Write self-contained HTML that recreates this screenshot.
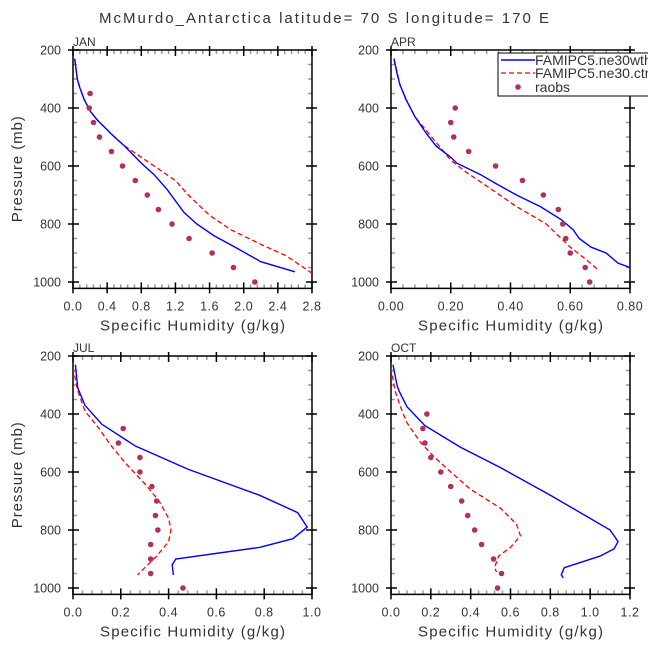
<!DOCTYPE html>
<html><head><meta charset="utf-8"><style>
html,body{margin:0;padding:0;background:#fff;}
svg{display:block;font-family:"Liberation Sans",sans-serif;}
</style></head><body>
<svg id="c" width="648" height="649" viewBox="0 0 648 649">
<text x="324" y="23" text-anchor="middle" font-size="15" fill="#333" textLength="450">McMurdo_Antarctica  latitude= 70 S longitude= 170 E</text>
</svg>
<script>
const NS="http://www.w3.org/2000/svg";
const svg=document.getElementById('c');
// JAN
const janBlueQ=[0.02,0.05,0.08,0.13,0.2,0.28,0.45,0.6,0.8,0.95,1.1,1.3,1.45,1.65,1.9,2.2,2.6];
const janBlueP=[230,300,330,370,410,440,490,530,590,630,680,760,800,840,880,930,965];
const janRedQ=[0.02,0.05,0.08,0.13,0.2,0.28,0.45,0.6,0.8,1.0,1.2,1.35,1.6,1.85,2.2,2.5,2.8];
const janRedP=[230,300,330,370,410,440,490,530,570,610,650,700,770,820,870,910,970];
const janObsQ=[0.2,0.19,0.24,0.31,0.45,0.58,0.73,0.87,1.0,1.16,1.36,1.63,1.88,2.13];
const janObsP=[350,400,450,500,550,600,650,700,750,800,850,900,950,1000];
// APR
const aprBlueQ=[0.01,0.02,0.03,0.05,0.08,0.12,0.15,0.2,0.22,0.3,0.35,0.42,0.5,0.57,0.61,0.63,0.67,0.72,0.76,0.8];
const aprBlueP=[230,280,320,370,430,490,530,570,590,630,660,700,740,785,820,850,880,900,935,950];
const aprRedQ=[0.01,0.03,0.05,0.08,0.12,0.16,0.2,0.25,0.35,0.42,0.52,0.56,0.6,0.65,0.69];
const aprRedP=[230,320,370,430,480,530,580,620,690,740,800,840,880,920,955];
const aprObsQ=[0.215,0.2,0.21,0.26,0.35,0.44,0.51,0.56,0.575,0.585,0.6,0.65,0.665];
const aprObsP=[400,450,500,550,600,650,700,750,800,850,900,950,1000];
// JUL
const julBlueQ=[0.01,0.02,0.05,0.12,0.26,0.48,0.78,0.94,0.98,0.92,0.78,0.43,0.415,0.42];
const julBlueP=[230,310,370,435,510,590,680,740,790,830,860,900,920,955];
const julRedQ=[0.0,0.02,0.05,0.1,0.16,0.22,0.3,0.36,0.4,0.41,0.4,0.35,0.3,0.27];
const julRedP=[240,320,390,440,510,570,640,700,760,800,840,890,930,955];
const julObsQ=[0.21,0.19,0.28,0.28,0.33,0.35,0.345,0.355,0.325,0.325,0.325,0.46];
const julObsP=[450,500,550,600,650,700,750,800,850,900,950,1000];
// OCT
const octBlueQ=[0.01,0.03,0.04,0.08,0.17,0.35,0.55,0.8,1.1,1.14,1.12,1.05,0.87,0.855,0.865];
const octBlueP=[230,300,320,375,440,515,585,680,800,840,865,890,930,955,965];
const octRedQ=[0.0,0.02,0.05,0.08,0.15,0.22,0.3,0.4,0.55,0.63,0.65,0.6,0.54,0.52,0.53];
const octRedP=[240,320,380,430,500,550,600,660,725,780,820,860,890,930,945];
const octObsQ=[0.18,0.16,0.17,0.2,0.25,0.3,0.355,0.385,0.42,0.455,0.515,0.555,0.535];
const octObsP=[400,450,500,550,600,650,700,750,800,850,900,950,1000];

const janTicks=["0.0","0.4","0.8","1.2","1.6","2.0","2.4","2.8"];
const aprTicks=["0.00","0.20","0.40","0.60","0.80"];
const julTicks=["0.0","0.2","0.4","0.6","0.8","1.0"];
const octTicks=["0.0","0.2","0.4","0.6","0.8","1.0","1.2"];
const yTicks=[200,400,600,800,1000];

function el(t,a,p){const e=document.createElementNS(NS,t);for(const k in a)e.setAttribute(k,a[k]);(p||svg).appendChild(e);return e;}

function panel(name,x0,x1,top,xmax,ticks,minorPer,bq,bp,rq,rp,oq,op,yTitle){
  const g=el('g',{});
  
  
  const p200=top, p1000=top+232;
  const Y=p=>p200+(p-200)*(p1000-p200)/800;
  const X=q=>x0+q*(x1-x0)/xmax;
  const bottom=Y(1022);
  for(let p=250;p<1020;p+=50){ if(p%200===0) continue;
    const m=el('path',{d:`M${x0} ${Y(p)}h4M${x1} ${Y(p)}h-4`,stroke:'#999','stroke-width':1.5},g);
    }
  const nt=ticks.length-1, step=xmax/nt;
  for(let i=0;i<nt;i++)for(let j=1;j<minorPer;j++){const xx=X((i+j/minorPer)*step);
    const m=el('path',{d:`M${xx} ${bottom}v-4M${xx} ${top}v4`,stroke:'#999','stroke-width':1.5},g);
    }
  const f=el('rect',{x:x0,y:top,width:x1-x0,height:bottom-top,fill:'none',stroke:'#000','stroke-width':1.5},g);
  
  yTicks.forEach(p=>{
    const t=el('path',{d:`M${x0-5} ${Y(p)}h11M${x1+5} ${Y(p)}h-11`,stroke:'#000','stroke-width':1.5},g);
    
    const l=el('text',{x:x0-12,y:Y(p)+4.5,'text-anchor':'end','font-size':12.5,fill:'#333'},g);l.textContent=p;
    
  });
  ticks.forEach((s,i)=>{const xx=X(i*step);
    const t=el('path',{d:`M${xx} ${bottom+5}v-11M${xx} ${top-4}v10`,stroke:'#000','stroke-width':1.5},g);
    
    const l=el('text',{x:xx,y:bottom+22,'text-anchor':'middle','font-size':12.5,fill:'#333','letter-spacing':'0.5'},g);l.textContent=s;
    
  });
  const xt=el('text',{x:(x0+x1)/2,y:bottom+42,'text-anchor':'middle','font-size':15,fill:'#333',textLength:185},g);
  xt.textContent='Specific Humidity (g/kg)';
  
  if(yTitle){const yt=el('text',{x:0,y:0,transform:`translate(22 ${(top+bottom)/2}) rotate(-90)`,'text-anchor':'middle','font-size':15,fill:'#333',textLength:106},g);
    yt.textContent='Pressure (mb)';}
  const lb=el('text',{x:x0,y:top-4,'font-size':12,fill:'#333'},g);lb.textContent=name.toUpperCase();
  
  const cp=el('clipPath',{id:'cl'+name},g);el('rect',{x:x0,y:top,width:x1-x0+2,height:bottom-top},cp);
  const pts=(q,p)=>q.map((v,i)=>X(v)+','+Y(p[i])).join(' ');
  const rl=el('polyline',{points:pts(rq,rp),fill:'none',stroke:'#f00','stroke-width':1.3,'stroke-dasharray':'5 3','clip-path':`url(#cl${name})`},g);
  
  const bl=el('polyline',{points:pts(bq,bp),fill:'none',stroke:'#00f','stroke-width':1.4,'clip-path':`url(#cl${name})`},g);
  
  oq.forEach((v,i)=>{const c=el('circle',{cx:X(v),cy:Y(op[i]),r:2.8,fill:'#b03060'},g);
    });
}
panel('jan',73,312,50,2.8,janTicks,5,janBlueQ,janBlueP,janRedQ,janRedP,janObsQ,janObsP,true);
panel('apr',391,630,50,0.8,aprTicks,5,aprBlueQ,aprBlueP,aprRedQ,aprRedP,aprObsQ,aprObsP,false);
panel('jul',73,312,356,1.0,julTicks,5,julBlueQ,julBlueP,julRedQ,julRedP,julObsQ,julObsP,true);
panel('oct',391,630,356,1.2,octTicks,5,octBlueQ,octBlueP,octRedQ,octRedP,octObsQ,octObsP,false);
const lg=el('g',{});


el('rect',{x:498,y:53,width:160,height:43,fill:'#fff',stroke:'#000','stroke-width':1},lg);
el('path',{d:'M501 60h34',stroke:'#00f','stroke-width':1.4},lg);
el('path',{d:'M501 73h34',stroke:'#f00','stroke-width':1.3,'stroke-dasharray':'5 3'},lg);
el('circle',{cx:518,cy:87,r:2.8,fill:'#b03060'},lg);
[['FAMIPC5.ne30wth',65],['FAMIPC5.ne30.ctrl',78],['raobs',92]].forEach(([t,y])=>{
  const tx=el('text',{x:535,y:y,'font-size':14,fill:'#333'},lg);tx.textContent=t;
  });
</script>
</body></html>
